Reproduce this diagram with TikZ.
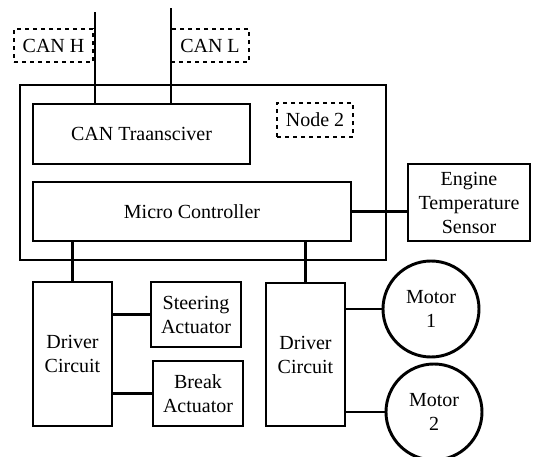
\documentclass[tikz,border=0pt]{standalone}
\usepackage{fontspec}
\setmainfont{Liberation Serif}
\newfontfamily\tnrfont{Liberation Serif}
\begin{document}
\begin{tikzpicture}[x=0.75pt,y=-0.75pt,
  lbl/.style={font=\tnrfont\fontsize{15pt}{18pt}\selectfont},
  blk/.style={draw=black, line width=2.2pt, rectangle, inner sep=0pt, align=center, lbl},
  dblk/.style={draw=black, line width=1pt, dashed, rectangle, inner sep=0pt, align=center, lbl},
  motor/.style={draw=black, line width=2.2pt, circle, inner sep=0pt, minimum size=72pt, align=center, lbl},
  wire/.style={line width=2.2pt}]
\useasboundingbox (0,0) rectangle (533,457);
\node[blk, minimum width=274.5pt, minimum height=131.25pt] (outer) at (203,172.5) {};
\node[blk, minimum width=162.75pt, minimum height=45pt] (cant) at (141.5,134) {CAN Traansciver};
\node[blk, minimum width=238.5pt, minimum height=44.25pt] (mc) at (192,211.5) {Micro Controller};
\node[blk, minimum width=91.5pt, minimum height=57.75pt] (eng) at (469,202.5) {Engine\\Temperature\\Sensor};
\node[blk, minimum width=59.25pt, minimum height=108pt] (ldrv) at (72.5,354) {Driver\\Circuit};
\node[blk, minimum width=67.5pt, minimum height=48.75pt] (steer) at (196,314.5) {Steering\\Actuator};
\node[blk, minimum width=67.5pt, minimum height=48.75pt] (brk) at (198,393.5) {Break\\Actuator};
\node[blk, minimum width=59.25pt, minimum height=107.25pt] (rdrv) at (305.5,354.5) {Driver\\Circuit};
\node[motor] (m1) at (431,309) {Motor\\1};
\node[motor] (m2) at (434,412) {Motor\\2};
\coordinate (htop) at (95,12);
\coordinate (ltop) at (171,8);
\draw[wire] (htop) -- (htop |- cant.north);
\draw[wire] (ltop) -- (ltop |- cant.north);
\draw[wire] (mc.east) -- (eng.west |- mc.east);
\draw[wire] (ldrv.north |- mc.south) -- (ldrv.north);
\draw[wire] (rdrv.north |- mc.south) -- (rdrv.north);
\draw[wire] (steer.west) -- (steer.west -| ldrv.east);
\draw[wire] (brk.west) -- (brk.west -| ldrv.east);
\draw[wire] (m1.west) -- (m1.west -| rdrv.east);
\draw[wire] (m2.west) -- (m2.west -| rdrv.east);
\node[dblk, minimum width=57pt, minimum height=25.5pt] (n2) at (315,120) {Node 2};
\node[dblk, minimum width=59.25pt, minimum height=24.75pt] (canh) at (53.5,45.5) {CAN H};
\node[dblk, minimum width=58.5pt, minimum height=24.75pt] (canl) at (210,45.5) {CAN L};
\end{tikzpicture}
\end{document}
